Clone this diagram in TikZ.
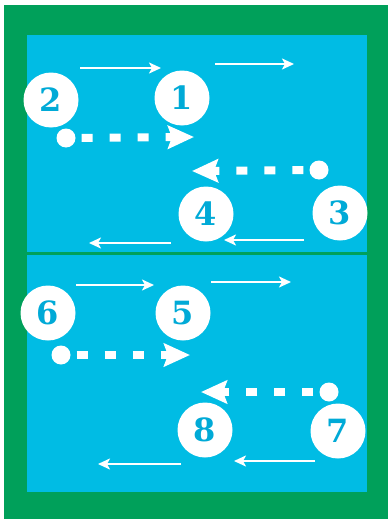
\documentclass[tikz,border=0pt]{standalone}
\usepackage{fontspec}
\newfontfamily\numfont{DejaVu Serif}
\usetikzlibrary{arrows.meta}
\definecolor{bggreen}{RGB}{0,160,90}
\definecolor{panelblue}{RGB}{0,188,228}
\definecolor{digitblue}{RGB}{0,170,215}
\tikzset{
  numcircle/.style={circle, fill=white, minimum size=55pt, inner sep=0pt,
    font=\numfont\bfseries\fontsize{32}{32}\selectfont, text=digitblue},
  dotnode/.style={circle, fill=white, minimum size=19pt, inner sep=0pt},
  thinarrow/.style={draw=white, line width=2.6pt,
    -{Stealth[length=12pt, width=11pt, inset=3pt]}},
  dasharrow/.style={draw=white, line width=8pt, dash pattern=on 11pt off 17pt, dash phase=22pt,
    -{Stealth[length=26pt, width=23pt, inset=4pt]}},
  panel/.style={fill=panelblue}
}
\begin{document}
\begin{tikzpicture}[x=1pt,y=-1pt]
\useasboundingbox (0,0) rectangle (388,519);
\fill[white] (0,0) rectangle (388,519);
\fill[bggreen] (4,5) rectangle (388,519);
\fill[panel] (27,35) rectangle (367,252);
\fill[panel] (27,255) rectangle (367,492);

% ---- top panel ----
\coordinate (t1s) at (80,68); \coordinate (t1e) at (161,68);
\coordinate (t2s) at (215,64); \coordinate (t2e) at (294,64);
\draw[thinarrow] (t1s) -- (t1e);
\draw[thinarrow] (t2s) -- (t2e);

\node[numcircle] (n2) at (51,100) {2};
\node[numcircle] (n1) at (182,98) {1};

\node[dotnode] (d1) at (66,138) {};
\coordinate (h1) at (194,137);
\draw[dasharrow] (d1.east) -- (h1);

\node[dotnode] (d2) at (319,170) {};
\coordinate (h2) at (192,171);
\draw[dasharrow] (d2.west) -- (h2);

\node[numcircle] (n4) at (206,214) {4};
\node[numcircle] (n3) at (340,213) {3};

\coordinate (t3s) at (304,240); \coordinate (t3e) at (224,240);
\coordinate (t4s) at (171,243); \coordinate (t4e) at (89,243);
\draw[thinarrow] (t3s) -- (t3e);
\draw[thinarrow] (t4s) -- (t4e);

% ---- bottom panel ----
\coordinate (b1s) at (76,285); \coordinate (b1e) at (154,285);
\coordinate (b2s) at (211,282); \coordinate (b2e) at (291,282);
\draw[thinarrow] (b1s) -- (b1e);
\draw[thinarrow] (b2s) -- (b2e);

\node[numcircle] (n6) at (48,313) {6};
\node[numcircle] (n5) at (183,313) {5};

\node[dotnode] (d3) at (61,355) {};
\coordinate (h3) at (190,355);
\draw[dasharrow] (d3.east) -- (h3);

\node[dotnode] (d4) at (329,392) {};
\coordinate (h4) at (201,392);
\draw[dasharrow] (d4.west) -- (h4);

\node[numcircle] (n8) at (205,430) {8};
\node[numcircle] (n7) at (338,431) {7};

\coordinate (b3s) at (315,461); \coordinate (b3e) at (234,461);
\coordinate (b4s) at (181,464); \coordinate (b4e) at (98,464);
\draw[thinarrow] (b3s) -- (b3e);
\draw[thinarrow] (b4s) -- (b4e);
\end{tikzpicture}
\end{document}
